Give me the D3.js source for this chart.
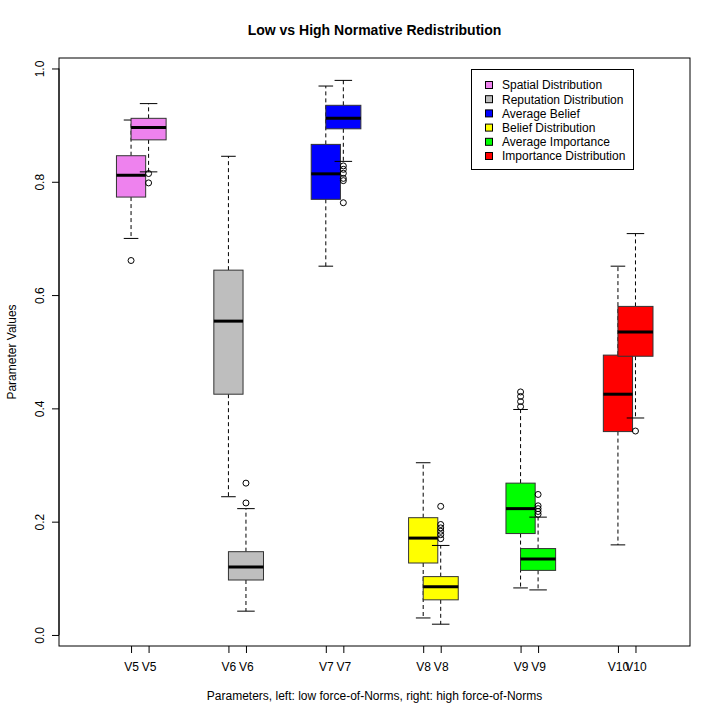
<!DOCTYPE html>
<html>
<head>
<meta charset="utf-8">
<script src="https://cdn.jsdelivr.net/npm/d3@7/dist/d3.min.js"></script>
<style>
  html, body { margin: 0; padding: 0; background: #fff; }
  svg { display: block; font-family: "Liberation Sans", Arial, Helvetica, sans-serif; }
</style>
</head>
<body>
<svg id="chart" width="720" height="720"></svg>
<script>
// ---------- data ----------
const categories = ["V5", "V6", "V7", "V8", "V9", "V10"];
const legendLabels = ["Spatial Distribution", "Reputation Distribution", "Average Belief",
                      "Belief Distribution", "Average Importance", "Importance Distribution"];
const colors = ["#EE82EE", "#BEBEBE", "#0000FF", "#FFFF00", "#00FF00", "#FF0000"];

// low force-of-Norms (left boxes)
const lowWhiskerLo = [0.700, 0.244, 0.651, 0.030, 0.083, 0.159];
const lowQ1        = [0.773, 0.425, 0.769, 0.127, 0.179, 0.359];
const lowMedian    = [0.8115, 0.554, 0.814, 0.171, 0.223, 0.425];
const lowQ3        = [0.846, 0.644, 0.866, 0.207, 0.268, 0.494];
const lowWhiskerHi = [0.909, 0.845, 0.969, 0.304, 0.398, 0.651];
const lowOutliers  = [[0.661], [], [], [], [0.403, 0.412, 0.421, 0.429], []];

// high force-of-Norms (right boxes)
const highWhiskerLo = [0.8175, 0.042, 0.836, 0.019, 0.0795, 0.383];
const highQ1        = [0.874, 0.097, 0.8935, 0.062, 0.114, 0.492];
const highMedian    = [0.896, 0.120, 0.912, 0.085, 0.134, 0.535];
const highQ3        = [0.912, 0.147, 0.935, 0.103, 0.1525, 0.580];
const highWhiskerHi = [0.938, 0.223, 0.979, 0.158, 0.208, 0.7085];
const highOutliers  = [[0.8145, 0.798], [0.268, 0.233],
                       [0.828, 0.822, 0.815, 0.806, 0.802, 0.763],
                       [0.227, 0.195, 0.189, 0.183, 0.177, 0.170],
                       [0.248, 0.228, 0.223, 0.218, 0.213], [0.360]];

const yTicks = [0.0, 0.2, 0.4, 0.6, 0.8, 1.0];

const title = "Low vs High Normative Redistribution";
const xTitle = "Parameters, left: low force-of-Norms, right: high force-of-Norms";
const yTitle = "Parameter Values";

// ---------- layout ----------
const plot = { left: 59, right: 690, top: 58, bottom: 646 };
const svg = d3.select("#chart");

const x = d3.scaleLinear().domain([0.26, 6.74]).range([plot.left, plot.right]);
const y = d3.scaleLinear().domain([-0.0195, 1.0185]).range([plot.bottom, plot.top]);

const highOffset = 0.18;
const lowWidth = 0.30, highWidth = 0.36;

function build(pre, offset, width) {
  return categories.map((c, i) => ({
    cat: c, i, color: colors[i],
    pos: i + 1 + offset, width,
    wlo: pre.wlo[i], q1: pre.q1[i], med: pre.med[i], q3: pre.q3[i], whi: pre.whi[i],
    out: pre.out[i]
  }));
}
const lowGroups = build({ wlo: lowWhiskerLo, q1: lowQ1, med: lowMedian, q3: lowQ3, whi: lowWhiskerHi, out: lowOutliers }, 0, lowWidth);
const highGroups = build({ wlo: highWhiskerLo, q1: highQ1, med: highMedian, q3: highQ3, whi: highWhiskerHi, out: highOutliers }, highOffset, highWidth);
const groups = [...lowGroups, ...highGroups];

const g = svg.append("g");

groups.forEach(d => {
  const cx = x(d.pos);
  const hw = (x(d.pos + d.width / 2) - x(d.pos - d.width / 2)) / 2;
  const bg = g.append("g");
  // whiskers (dashed)
  bg.append("line").attr("x1", cx).attr("x2", cx).attr("y1", y(d.q3)).attr("y2", y(d.whi))
    .attr("stroke", "#000").attr("stroke-width", 1).attr("stroke-dasharray", "4,3");
  bg.append("line").attr("x1", cx).attr("x2", cx).attr("y1", y(d.q1)).attr("y2", y(d.wlo))
    .attr("stroke", "#000").attr("stroke-width", 1).attr("stroke-dasharray", "4,3");
  // staples
  [d.whi, d.wlo].forEach(v => {
    bg.append("line").attr("x1", cx - hw / 2).attr("x2", cx + hw / 2)
      .attr("y1", y(v)).attr("y2", y(v)).attr("stroke", "#000").attr("stroke-width", 1);
  });
  // box
  bg.append("rect").attr("x", cx - hw).attr("width", 2 * hw)
    .attr("y", y(d.q3)).attr("height", y(d.q1) - y(d.q3))
    .attr("fill", d.color).attr("stroke", "#333").attr("stroke-width", 1);
  // median
  bg.append("line").attr("x1", cx - hw).attr("x2", cx + hw)
    .attr("y1", y(d.med)).attr("y2", y(d.med)).attr("stroke", "#000").attr("stroke-width", 3);
  // outliers
  bg.selectAll("circle").data(d.out).join("circle")
    .attr("cx", cx).attr("cy", v => y(v)).attr("r", 3)
    .attr("fill", "none").attr("stroke", "#000").attr("stroke-width", 1);
});

// plot frame
svg.append("rect").attr("x", plot.left).attr("y", plot.top)
  .attr("width", plot.right - plot.left).attr("height", plot.bottom - plot.top)
  .attr("fill", "none").attr("stroke", "#000").attr("stroke-width", 1);

// y axis
const yAxis = svg.append("g").attr("transform", `translate(${plot.left},0)`)
  .call(d3.axisLeft(y).tickValues(yTicks).tickSize(7).tickFormat(d3.format(".1f")));
yAxis.select(".domain").attr("d", `M0,${y(0)}V${y(1)}`).attr("stroke", "#000");
yAxis.selectAll(".tick line").attr("stroke", "#000");
yAxis.selectAll(".tick text")
  .attr("x", null).attr("dy", null)
  .attr("text-anchor", "middle")
  .attr("transform", "translate(-15,0) rotate(-90)")
  .attr("fill", "#000").style("font-size", "12px")
  .style("font-family", '"Liberation Sans", Arial, sans-serif');

// x axis: ticks at each box centre (low set, then high set)
[lowGroups, highGroups].forEach(set => {
  const ax = svg.append("g").attr("transform", `translate(0,${plot.bottom})`)
    .call(d3.axisBottom(x).tickValues(set.map(d => d.pos)).tickSize(7)
      .tickFormat((d, i) => set[i].cat));
  ax.select(".domain").remove();
  ax.selectAll(".tick line").attr("stroke", "#000");
  ax.selectAll(".tick text").attr("y", 25).attr("dy", null)
    .attr("fill", "#000").style("font-size", "12px")
    .style("font-family", '"Liberation Sans", Arial, sans-serif');
});

// titles
svg.append("text").attr("x", (plot.left + plot.right) / 2).attr("y", 35)
  .attr("text-anchor", "middle").style("font-size", "14px").style("font-weight", "bold")
  .text(title);
svg.append("text").attr("x", (plot.left + plot.right) / 2).attr("y", 700)
  .attr("text-anchor", "middle").style("font-size", "12px").text(xTitle);
svg.append("text").attr("transform", `translate(16,${(plot.top + plot.bottom) / 2}) rotate(-90)`)
  .attr("text-anchor", "middle").style("font-size", "12px").text(yTitle);

// legend
const leg = svg.append("g");
const legX = 471.5, legY = 69.5, legW = 162, legH = 100;
leg.append("rect").attr("x", legX).attr("y", legY).attr("width", legW).attr("height", legH)
  .attr("fill", "#fff").attr("stroke", "#000").attr("stroke-width", 1);
const rowY = d3.scaleLinear().domain([0, legendLabels.length - 1]).range([85, 156]);
legendLabels.forEach((lab, i) => {
  leg.append("rect").attr("x", 485.5).attr("y", rowY(i) - 3.5).attr("width", 7).attr("height", 7)
    .attr("fill", colors[i]).attr("stroke", "#000").attr("stroke-width", 1);
  leg.append("text").attr("x", 502).attr("y", rowY(i) + 4.3)
    .style("font-size", "12px").text(lab);
});
</script>
</body>
</html>
